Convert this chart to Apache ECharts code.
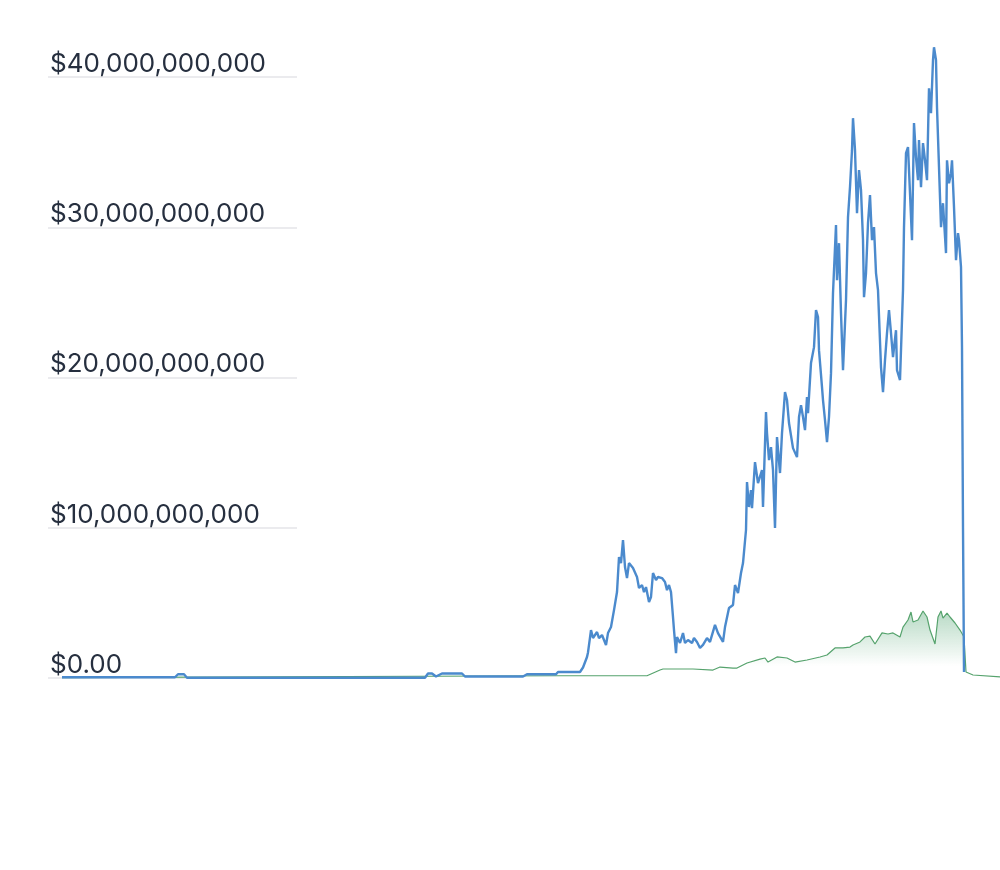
<!DOCTYPE html>
<html>
<head>
<meta charset="utf-8">
<script src="https://cdn.jsdelivr.net/npm/echarts@6/dist/echarts.min.js"></script>
<style>
  html, body { margin: 0; padding: 0; background: #fff; }
  #chart { width: 1000px; height: 870px; }
</style>
</head>
<body>
<div id="chart"></div>
<script>
// day index from start of series, values in billions of dollars
const volumeDays = [0, 226, 232, 244, 250, 726, 732, 740, 748, 760, 800, 806, 922, 930, 988, 992, 1036, 1042, 1046, 1050, 1052,
  1058, 1062, 1070, 1074, 1080, 1088, 1092, 1098, 1104, 1110, 1114, 1118, 1122, 1126, 1130, 1134, 1142, 1150, 1154, 1160,
  1164, 1168, 1174, 1178, 1182, 1188, 1192, 1200, 1206, 1210, 1214, 1218, 1222, 1224, 1228, 1230, 1236, 1242, 1246, 1252,
  1260, 1264, 1270, 1276, 1282, 1290, 1296, 1306, 1312, 1322, 1326, 1334, 1342, 1346, 1352, 1358, 1362, 1368, 1370, 1374,
  1378, 1380, 1386, 1392, 1400, 1402, 1408, 1410, 1414, 1418, 1422, 1426, 1430, 1436, 1440, 1446, 1450, 1454, 1462, 1470,
  1474, 1478, 1482, 1486, 1490, 1492, 1498, 1502, 1504, 1508, 1512, 1514, 1520, 1522, 1526, 1530, 1534, 1538, 1542, 1548,
  1550, 1554, 1558, 1562, 1568, 1572, 1576, 1580, 1582, 1586, 1590, 1594, 1598, 1602, 1604, 1608, 1612, 1616, 1620, 1624,
  1628, 1632, 1638, 1642, 1646, 1650, 1654, 1658, 1662, 1668, 1670, 1676, 1682, 1684, 1688, 1692, 1696, 1700, 1704, 1708,
  1712, 1714, 1718, 1722, 1726, 1730, 1734, 1738, 1742, 1744, 1748, 1750, 1754, 1758, 1762, 1768, 1770, 1774, 1778, 1780,
  1784, 1788, 1792, 1794, 1798, 1800, 1802, 1804]
const volumeBn = [0.05, 0.05, 0.25, 0.25, 0.02, 0.02, 0.3, 0.3, 0.1, 0.3, 0.3, 0.1, 0.1, 0.25, 0.25, 0.4, 0.4, 0.7, 0.8, 1.4, 1.7,
  3.19, 2.66, 3.06, 2.66, 2.86, 2.2, 2.99, 3.39, 4.52, 5.72, 8.05, 7.65, 9.18, 7.39, 6.65, 7.65, 7.32, 6.72, 5.99, 6.19,
  5.72, 6.05, 5.06, 5.39, 6.99, 6.52, 6.72, 6.65, 6.39, 5.85, 6.19, 5.72, 4.06, 3.19, 1.66, 2.73, 2.33, 2.99, 2.33, 2.53,
  2.33, 2.66, 2.4, 2.0, 2.2, 2.66, 2.4, 3.53, 2.99, 2.4, 3.39, 4.66, 4.86, 6.19, 5.66, 6.99, 7.65, 9.85, 13.04, 11.38,
  12.51, 11.31, 14.37, 12.97, 13.84, 11.38, 17.7, 16.3, 14.5, 15.37, 13.84, 9.98, 16.03, 13.64, 16.3, 19.03, 18.5, 16.97, 15.3, 14.7,
  17.37, 18.16, 17.37, 16.5, 18.7, 17.63, 20.96, 21.02, 22.02, 24.48, 24.02, 21.82, 19.36, 18.5, 17.17, 15.7, 17.37, 20.29, 25.62, 30.14,
  26.48, 28.94, 24.28, 20.49, 25.15, 30.67, 32.67, 35.13, 37.26, 35.13, 30.94, 33.8, 32.47, 29.14, 25.35, 26.95, 30.27, 32.14, 29.14, 30.01,
  26.95, 25.82, 20.69, 19.03, 21.16, 22.95, 24.48, 22.95, 21.36, 23.15, 20.49, 19.83, 25.82, 30.01, 34.93, 35.33, 32.27, 29.14, 36.93, 34.66,
  33.13, 35.8, 32.67, 35.6, 34.46, 33.13, 39.25, 37.59, 41.12, 41.98, 41.12, 37.99, 34.0, 30.01, 31.6, 28.28, 34.46, 32.93, 33.6, 34.46,
  31.34, 27.81, 29.61, 29.14, 27.35, 22, 10, 0.4]

const lockedDays = [0, 996, 1170, 1196, 1202, 1262, 1302, 1316, 1342, 1350, 1370, 1396, 1406, 1412, 1430, 1450, 1466, 1490,
  1516, 1530, 1546, 1562, 1576, 1582, 1596, 1606, 1616, 1626, 1640, 1652, 1662, 1676, 1682, 1692, 1698, 1702, 1712, 1722,
  1730, 1736, 1746, 1752, 1758, 1762, 1770, 1776, 1786, 1796, 1804, 1808, 1812, 1822, 1876]
const lockedBn = [0.03, 0.15, 0.15, 0.53, 0.6, 0.6, 0.53, 0.73, 0.66, 0.66, 1.0, 1.26, 1.33, 1.06, 1.4, 1.33, 1.06, 1.2,
  1.4, 1.53, 2.0, 2.0, 2.06, 2.2, 2.4, 2.73, 2.79, 2.26, 3.0, 2.93, 3.0, 2.73, 3.39, 3.86, 4.39, 3.73, 3.86, 4.46,
  4.06, 3.19, 2.26, 4.06, 4.46, 3.99, 4.32, 4.06, 3.66, 3.19, 2.73, 0.4, 0.33, 0.2, 0.07]

const yTicks = [0, 10e9, 20e9, 30e9, 40e9]

const toPairs = (days, bn) => days.map((d, i) => [d, bn[i] * 1e9])

const formatUsd = v => v === 0 ? '$0.00' : '$' + v.toLocaleString('en-US')

const chart = echarts.init(document.getElementById('chart'))

chart.setOption({
  animation: false,
  grid: [
    // plot area for the two series
    { left: 62, right: 0, top: 77, bottom: 192 },
    // short area only for labels and the little grid lines
    { left: 48, width: 249, top: 77, bottom: 192 }
  ],
  xAxis: [
    { gridIndex: 0, type: 'value', min: 0, max: 1876, show: false },
    { gridIndex: 1, type: 'value', min: 0, max: 1, show: false }
  ],
  yAxis: [
    { gridIndex: 0, type: 'value', min: 0, max: yTicks[yTicks.length - 1], show: false },
    {
      gridIndex: 1,
      type: 'value',
      min: yTicks[0],
      max: yTicks[yTicks.length - 1],
      interval: yTicks[1] - yTicks[0],
      axisLine: { show: false },
      axisTick: { show: false },
      splitLine: { lineStyle: { color: '#ebebee', width: 2 } },
      axisLabel: {
        inside: true,
        margin: 2,
        align: 'left',
        verticalAlign: 'bottom',
        padding: [0, 0, 0, 0],
        fontFamily: 'Inter',
        fontSize: 26,
        color: '#262f3f',
        formatter: formatUsd
      }
    }
  ],
  series: [
    {
      type: 'line',
      xAxisIndex: 0,
      yAxisIndex: 0,
      data: toPairs(lockedDays, lockedBn),
      showSymbol: false,
      clip: false,
      lineStyle: { color: '#56a36d', width: 1.2 },
      areaStyle: {
        color: new echarts.graphic.LinearGradient(0, 0, 0, 1, [
          { offset: 0, color: 'rgba(52,150,90,0.5)' },
          { offset: 0.82, color: 'rgba(52,150,90,0)' }
        ])
      },
      z: 2
    },
    {
      type: 'line',
      xAxisIndex: 0,
      yAxisIndex: 0,
      data: toPairs(volumeDays, volumeBn),
      showSymbol: false,
      clip: false,
      lineStyle: { color: '#4b8acd', width: 2.4 },
      z: 3
    }
  ]
})
</script>
</body>
</html>
